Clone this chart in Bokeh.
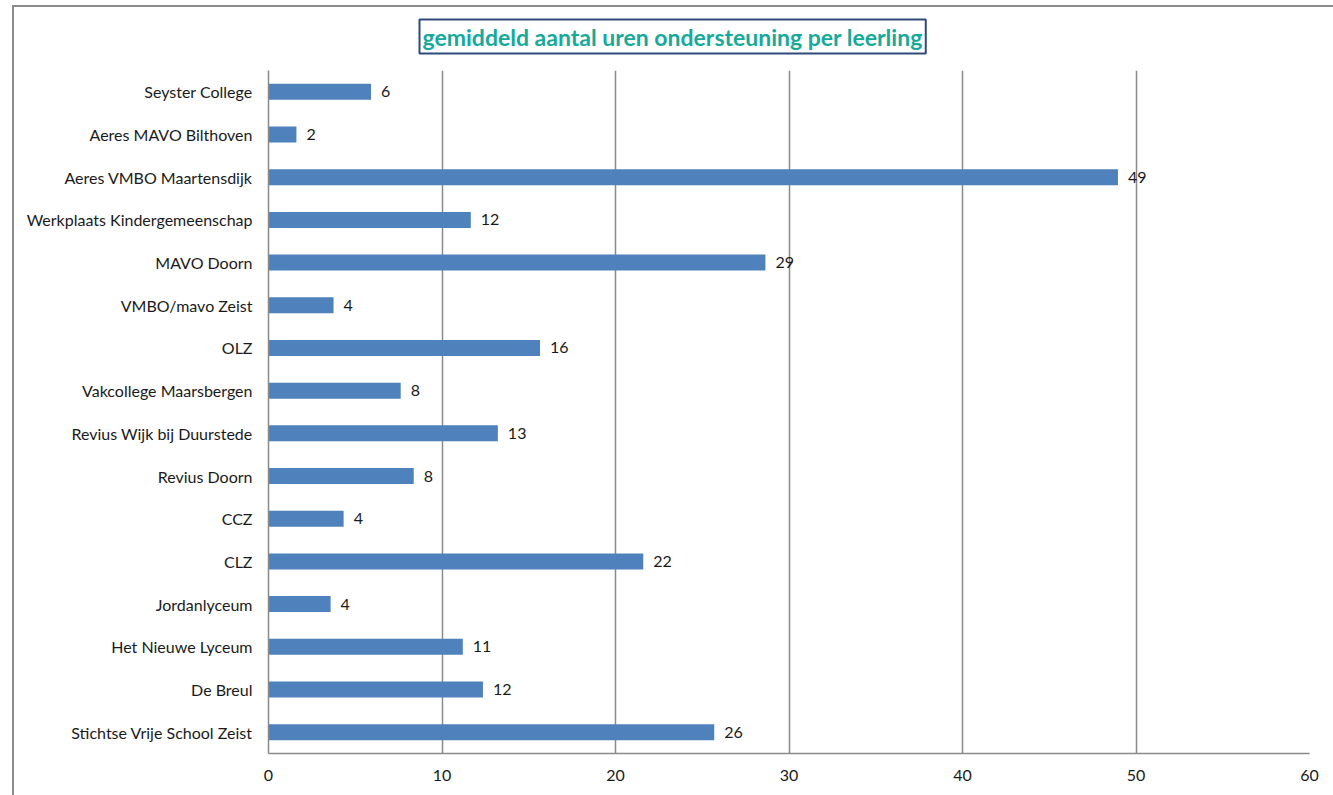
from bokeh.plotting import figure
from bokeh.models import ColumnDataSource, FactorRange, Range1d, FixedTicker, InlineStyleSheet
from bokeh.core.properties import value
from bokeh.embed import file_html
from bokeh.resources import INLINE

schools = [
    "Seyster College", "Aeres MAVO Bilthoven", "Aeres VMBO Maartensdijk",
    "Werkplaats Kindergemeenschap", "MAVO Doorn", "VMBO/mavo Zeist", "OLZ",
    "Vakcollege Maarsbergen", "Revius Wijk bij Duurstede", "Revius Doorn",
    "CCZ", "CLZ", "Jordanlyceum", "Het Nieuwe Lyceum", "De Breul",
    "Stichtse Vrije School Zeist",
]
hours = [5.91, 1.61, 48.96, 11.66, 28.64, 3.75, 15.65, 7.62, 13.22, 8.37,
         4.33, 21.6, 3.58, 11.2, 12.36, 25.69]
x_ticks = [0, 10, 20, 30, 40, 50, 60]
title_text = "gemiddeld aantal uren ondersteuning per leerling"

FONT = "Lato"

src = ColumnDataSource(dict(
    school=schools, hours=hours,
    label=[str(int(round(h))) for h in hours],
))

p = figure(
    width=1325, height=787,
    y_range=FactorRange(factors=list(reversed(schools))),
    x_range=Range1d(0, 60),
    output_backend="svg", toolbar_location=None,
    min_border_left=268, min_border_right=16, min_border_top=70, min_border_bottom=34,
    title=title_text,
)
p.outline_line_color = None
p.background_fill_color = "white"
p.border_fill_color = "white"

p.hbar(y="school", right="hours", left=0, height=0.375, source=src,
       fill_color="#4F81BD", line_color=None)
p.text(x="hours", y="school", text="label", source=src, x_offset=10,
       text_align="left", text_baseline="middle",
       text_font=value(FONT), text_font_size="16px", text_color="#1a1a1a")

p.ygrid.grid_line_color = None
p.xgrid.grid_line_color = "#8a8a8a"
p.xgrid.grid_line_width = 1.5
p.xaxis.ticker = FixedTicker(ticks=x_ticks)

for ax in (p.xaxis[0], p.yaxis[0]):
    ax.axis_line_color = "#8a8a8a"
    ax.axis_line_width = 1.5
    ax.major_tick_line_color = None
    ax.minor_tick_line_color = None
    ax.major_label_text_font = FONT
    ax.major_label_text_font_size = "16px"
    ax.major_label_text_color = "#1a1a1a"
p.xaxis.major_label_standoff = 10
p.yaxis.major_label_standoff = 10

t = p.title
t.align = "left"
t.offset = 151
t.text_font = FONT
t.text_font_style = "bold"
t.text_font_size = "23px"
t.text_color = "#17A99A"
t.border_line_color = "#2E4B7A"
t.border_line_width = 2
t.background_fill_color = "white"
t.padding = 3
t.standoff = 34

p.stylesheets = [InlineStyleSheet(css="""
:host { position: relative; }
:host::after {
  content: ""; position: absolute; left: 12px; top: 5px; right: -20px; bottom: -20px;
  border-left: 2px solid #8c8c8c; border-top: 2px solid #8c8c8c;
  pointer-events: none;
}
""")]

open("out.html", "w").write(file_html(p, INLINE))
